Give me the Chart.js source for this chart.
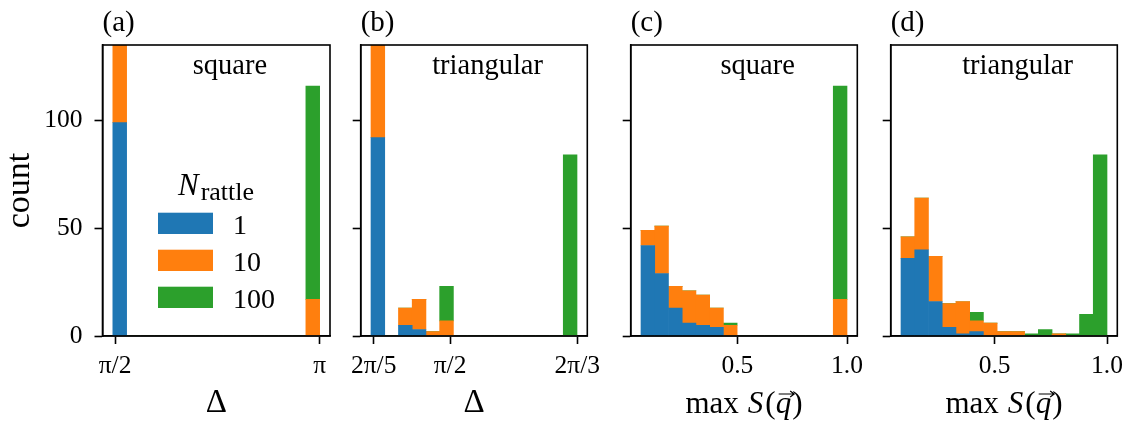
<!DOCTYPE html>
<html>
<head>
<meta charset="utf-8">
<script src="https://cdn.jsdelivr.net/npm/chart.js@4.4.1/dist/chart.umd.min.js"></script>
<style>
  body { margin: 0; background: #fff; }
  #wrap { position: relative; width: 1137px; height: 423px; background: #fff; }
  #wrap canvas { position: absolute; left: 0; top: 0; }
</style>
</head>
<body>
<div id="wrap">
  <canvas id="panel-a" width="1137" height="423"></canvas>
  <canvas id="panel-b" width="1137" height="423"></canvas>
  <canvas id="panel-c" width="1137" height="423"></canvas>
  <canvas id="panel-d" width="1137" height="423"></canvas>
</div>
<script>
/* =========================================================
   Histograms of Delta and max S(q), stacked by N_rattle
   ========================================================= */

const FONT = '"Liberation Serif", "DejaVu Serif", serif';

const seriesNames = ['1', '10', '100'];
const seriesColors = ['#1f77b4', '#ff7f0e', '#2ca02c'];

const yTicks = [0, 50, 100];
const yMax = 135;

// (a) square, Delta  (15 bins between the edges)
const edgesA = [1.554, Math.PI];
const countsA1   = [99, 0, 0, 0, 0, 0, 0, 0, 0, 0, 0, 0, 0, 0, 0];
const countsA10  = [82, 0, 0, 0, 0, 0, 0, 0, 0, 0, 0, 0, 0, 0, 17];
const countsA100 = [0, 0, 0, 0, 0, 0, 0, 0, 0, 0, 0, 0, 0, 0, 99];
const ticksA = [Math.PI / 2, Math.PI];
const tickLabelsA = ['π/2', 'π'];

// (b) triangular, Delta
const edgesB = [1.2455, 2.093];
const countsB1   = [92, 0, 5, 3, 0, 0, 0, 0, 0, 0, 0, 0, 0, 0, 0];
const countsB10  = [69, 0, 8, 14, 2, 7, 0, 0, 0, 0, 0, 0, 0, 0, 0];
const countsB100 = [0, 0, 0, 0, 0, 16, 0, 0, 0, 0, 0, 0, 0, 0, 84];
const ticksB = [2 * Math.PI / 5, Math.PI / 2, 2 * Math.PI / 3];
const tickLabelsB = ['2π/5', 'π/2', '2π/3'];

// (c) square, max S(q)
const edgesC = [0.0605, 1.0];
const countsC1   = [42, 29, 13, 6, 5, 4, 0, 0, 0, 0, 0, 0, 0, 0, 0];
const countsC10  = [7, 22, 10, 15, 14, 9, 5, 0, 0, 0, 0, 0, 0, 0, 17];
const countsC100 = [0, 0, 0, 0, 0, 0, 1, 0, 0, 0, 0, 0, 0, 0, 99];

// (d) triangular, max S(q)
const edgesD = [0.083, 1.0];
const countsD1   = [36, 40, 16, 4, 1, 2, 0, 0, 0, 0, 0, 0, 0, 0, 0];
const countsD10  = [10, 24, 21, 11, 15, 5, 6, 2, 2, 0, 0, 1, 0, 0, 0];
const countsD100 = [0, 0, 0, 0, 0, 4, 0, 0, 0, 1, 3, 0, 1, 10, 84];

const ticksS = [0.5, 1.0];
const tickLabelsS = ['0.5', '1.0'];

// bin centres from the edges
function binCentres(edges, n) {
  const w = (edges[1] - edges[0]) / n;
  return Array.from({ length: n }, (_, i) => edges[0] + (i + 0.5) * w);
}

// "max S(q)" with italic S and q, arrow on q
function drawMaxS(ctx, cx, baseline) {
  const roman = '31px ' + FONT, ital = 'italic 31px ' + FONT;
  const parts = [['max', roman, 9], ['S', ital, 2], ['(', roman, 0], ['q', ital, 1], [')', roman, 0]];
  let total = 0;
  parts.forEach(p => { ctx.font = p[1]; p.push(ctx.measureText(p[0]).width); total += p[3] + p[2]; });
  let x = cx - total / 2;
  ctx.textAlign = 'left';
  ctx.textBaseline = 'alphabetic';
  let qx = 0, qw = 0;
  parts.forEach(p => {
    ctx.font = p[1];
    ctx.fillText(p[0], x, baseline);
    if (p[0] === 'q') { qx = x; qw = p[3]; }
    x += p[3] + p[2];
  });
  const ay = baseline - 19;
  ctx.lineWidth = 1.2;
  ctx.beginPath();
  ctx.moveTo(qx + 3, ay); ctx.lineTo(qx + qw + 3, ay);
  ctx.moveTo(qx + qw - 1, ay - 3); ctx.lineTo(qx + qw + 3, ay); ctx.lineTo(qx + qw - 1, ay + 3);
  ctx.stroke();
}

function drawLegend(chart, ca) {
  const ctx = chart.ctx;
  const x0 = ca.left + 55.5, y0 = ca.top + 167.7;
  const boxW = 55, boxH = 21.3, step = 37;
  // title N_rattle
  ctx.font = 'italic 31px ' + FONT;
  const wN = ctx.measureText('N').width;
  ctx.font = '26px ' + FONT;
  const wSub = ctx.measureText('rattle').width;
  const start = x0 + 58 - (wN + 2 + wSub) / 2;
  ctx.textAlign = 'left';
  ctx.textBaseline = 'alphabetic';
  ctx.font = 'italic 31px ' + FONT;
  ctx.fillText('N', start, ca.top + 150);
  ctx.font = '26px ' + FONT;
  ctx.fillText('rattle', start + wN + 2, ca.top + 155);
  chart.data.datasets.forEach((ds, i) => {
    const y = y0 + i * step;
    ctx.fillStyle = ds.backgroundColor;
    ctx.fillRect(x0, y, boxW, boxH);
    ctx.fillStyle = '#000';
    ctx.font = '28px ' + FONT;
    ctx.fillText(ds.label, x0 + boxW + 20, y + boxH);
  });
}

const decor = {
  id: 'decor',
  afterDatasetsDraw(chart, args, o) {
    const { ctx, chartArea: ca } = chart;
    ctx.save();
    ctx.strokeStyle = '#000';
    ctx.lineWidth = 1.6;
    ctx.strokeRect(ca.left, ca.top, ca.width, ca.height);
    ctx.fillStyle = '#000';
    ctx.font = '28.5px ' + FONT;
    ctx.textAlign = 'center';
    ctx.textBaseline = 'alphabetic';
    ctx.fillText(o.note, ca.left + 0.56 * ca.width, ca.top + 29);
    if (o.legend) drawLegend(chart, ca);
    if (o.maxS) drawMaxS(ctx, (ca.left + ca.right) / 2, 413);
    ctx.restore();
  }
};

function makePanel(id, p) {
  const n = p.counts[0].length;
  const xs = binCentres(p.edges, n);
  const span = p.edges[1] - p.edges[0];
  const axisW = p.showY ? p.left : 30;

  const datasets = p.counts.map((c, i) => ({
    label: seriesNames[i],
    data: c.map((v, j) => ({ x: xs[j], y: v })),
    backgroundColor: seriesColors[i],
    borderWidth: 0,
    barPercentage: 1,
    categoryPercentage: 1
  }));

  const tickGrid = {
    display: true, offset: false, drawOnChartArea: false, drawTicks: true,
    tickLength: 8, tickWidth: 1.6, tickColor: '#000'
  };
  const border = { display: true, color: '#000', width: 1.6 };

  return new Chart(document.getElementById(id), {
    type: 'bar',
    data: { datasets },
    plugins: [decor],
    options: {
      responsive: false,
      animation: false,
      events: [],
      layout: { padding: { left: p.showY ? 0 : p.left - 30, right: 1137 - p.right, top: 0, bottom: 0 } },
      plugins: {
        legend: { display: false },
        tooltip: { enabled: false },
        title: {
          display: true, text: p.label, align: 'start', fullSize: false, color: '#000',
          font: { family: FONT, size: 29, weight: 'normal', lineHeight: 1.2 },
          padding: { top: 6, bottom: 4.2 }
        },
        decor: { note: p.note, legend: !!p.legend, maxS: !!p.maxS }
      },
      scales: {
        x: {
          type: 'linear', stacked: true, offset: false, bounds: 'data',
          min: p.edges[0] - 0.05 * span, max: p.edges[1] + 0.05 * span,
          afterBuildTicks: s => { s.ticks = p.ticks.map(v => ({ value: v })); },
          afterFit: s => { s.height = 87; },
          grid: tickGrid, border,
          ticks: {
            autoSkip: false, maxRotation: 0, color: '#000', padding: 7,
            font: { family: FONT, size: 25.5 },
            callback: (v, i) => p.tickLabels[i]
          },
          title: {
            display: !p.maxS, text: 'Δ', color: '#000',
            font: { family: FONT, size: 33 }, padding: { top: 0, bottom: 0 }
          }
        },
        y: {
          type: 'linear', stacked: true, min: 0, max: yMax, bounds: 'data',
          afterBuildTicks: s => { s.ticks = yTicks.map(v => ({ value: v })); },
          afterFit: s => { s.width = axisW; },
          grid: tickGrid, border,
          ticks: { display: p.showY, color: '#000', padding: 12, font: { family: FONT, size: 25.5 } },
          title: {
            display: p.showY, text: 'count', color: '#000',
            font: { family: FONT, size: 34 }, padding: { top: 0, bottom: 0 }
          }
        }
      }
    }
  });
}

makePanel('panel-a', {
  label: '(a)', note: 'square', legend: true, showY: true,
  left: 102.5, right: 330,
  edges: edgesA, counts: [countsA1, countsA10, countsA100],
  ticks: ticksA, tickLabels: tickLabelsA
});
makePanel('panel-b', {
  label: '(b)', note: 'triangular', showY: false,
  left: 360.7, right: 587.3,
  edges: edgesB, counts: [countsB1, countsB10, countsB100],
  ticks: ticksB, tickLabels: tickLabelsB
});
makePanel('panel-c', {
  label: '(c)', note: 'square', showY: false, maxS: true,
  left: 630.7, right: 857.3,
  edges: edgesC, counts: [countsC1, countsC10, countsC100],
  ticks: ticksS, tickLabels: tickLabelsS
});
makePanel('panel-d', {
  label: '(d)', note: 'triangular', showY: false, maxS: true,
  left: 890.7, right: 1117.3,
  edges: edgesD, counts: [countsD1, countsD10, countsD100],
  ticks: ticksS, tickLabels: tickLabelsS
});
</script>
</body>
</html>
